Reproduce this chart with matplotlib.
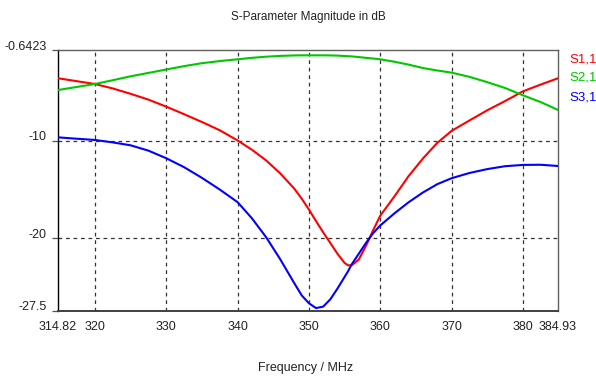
import matplotlib
matplotlib.use("Agg")
import matplotlib.pyplot as plt
from matplotlib.transforms import ScaledTranslation

plt.rcParams['font.family'] = ['Liberation Sans', 'DejaVu Sans']

freq = [314.82, 317, 320, 322.5, 325, 327.5, 330, 332.5, 335, 337.5, 340, 342, 344,
        346, 348, 349, 350, 351, 352, 353, 354, 355, 355.5, 356, 357, 358, 359, 360,
        362, 364, 366, 368, 370, 372.5, 375, 377.5, 380, 382.5, 384.93]

s11 = [-3.55, -3.8, -4.14, -4.6, -5.15, -5.75, -6.47, -7.25, -8.05, -8.9, -9.95, -10.9, -12.0,
       -13.35, -14.95, -15.95, -17.05, -18.25, -19.4, -20.5, -21.6, -22.55, -22.8, -22.8, -22.2,
       -20.8, -19.2, -17.7, -15.7, -13.6, -11.8, -10.2, -8.97, -7.9, -6.85, -5.9, -4.9, -4.2, -3.55]

s21 = [-4.76, -4.5, -4.14, -3.75, -3.35, -3.0, -2.65, -2.3, -2.0, -1.78, -1.6, -1.45, -1.33,
       -1.25, -1.2, -1.19, -1.19, -1.19, -1.19, -1.2, -1.22, -1.26, -1.28, -1.3, -1.37,
       -1.45, -1.52, -1.6, -1.85, -2.15, -2.5, -2.75, -2.97, -3.4, -3.95, -4.55, -5.3, -6.0, -6.81]

s31 = [-9.63, -9.75, -9.9, -10.15, -10.45, -11.0, -11.78, -12.7, -13.8, -15.0, -16.3, -17.95, -19.9,
       -22.2, -24.7, -25.9, -26.7, -27.2, -27.05, -26.3, -25.2, -24.0, -23.4, -22.7, -21.6,
       -20.5, -19.5, -18.7, -17.45, -16.3, -15.3, -14.45, -13.84, -13.3, -12.9, -12.6, -12.47, -12.45, -12.58]

series_names = ["S1,1", "S2,1", "S3,1"]
colors = ["#ff0000", "#00c800", "#0000ff"]

x_ticks = [314.82, 320, 330, 340, 350, 360, 370, 380, 384.93]
x_ticklabels = ["314.82", "320", "330", "340", "350", "360", "370", "380", "384.93"]
y_ticks = [-27.5, -20, -10, -0.6423]
y_ticklabels = ["-27.5", "-20", "-10", "-0.6423"]
x_grid = [320, 330, 340, 350, 360, 370, 380]
y_grid = [-20, -10]

title = "S-Parameter Magnitude in dB"
xlabel = "Frequency / MHz"

W, H = 596, 377
fig = plt.figure(figsize=(W / 100, H / 100), dpi=100)
L, R, T, B = 58, 558, 50, 311
ax = fig.add_axes([L / W, (H - B) / H, (R - L) / W, (B - T) / H])

ax.set_xlim(314.82, 384.93)
ax.set_ylim(-27.5, -0.6423)

for g in x_grid:
    ax.axvline(g, color="#333333", lw=0.9, ls=(0, (3, 3)), zorder=1)
for g in y_grid:
    ax.axhline(g, color="#333333", lw=0.9, ls=(0, (3, 3)), zorder=1)

for vals, c in zip([s11, s21, s31], colors):
    ax.plot(freq, vals, color=c, lw=1.5, zorder=3)

ax.set_xticks(x_ticks)
ax.set_xticklabels(x_ticklabels)
ax.set_yticks(y_ticks)
ax.set_yticklabels(y_ticklabels)
ax.tick_params(axis='x', length=0, pad=7, labelsize=9, labelcolor="#222222")
ax.tick_params(axis='y', length=4, width=0.9, color="#555555", pad=4, labelsize=9, labelcolor="#222222")
ax.set_xticks([314.82, 384.93], minor=True)
ax.tick_params(axis='x', which='minor', length=6, width=1, color="#333333")

for lab in ax.get_yticklabels():
    lab.set_transform(lab.get_transform() + ScaledTranslation(0, 0.05, fig.dpi_scale_trans))

ax.spines['left'].set_color("#000000")
ax.spines['left'].set_linewidth(1.0)
ax.spines['bottom'].set_color("#404040")
ax.spines['bottom'].set_linewidth(1.4)
ax.spines['top'].set_color("#606060")
ax.spines['top'].set_linewidth(1.0)
ax.spines['right'].set_color("#606060")
ax.spines['right'].set_linewidth(1.0)

fig.text(308 / W, 1 - 17 / H, title, ha='center', va='center', fontsize=8.5, color="#222222")
fig.text(306 / W, 1 - 368 / H, xlabel, ha='center', va='center', fontsize=9, color="#222222")

for i, (name, c) in enumerate(zip(series_names, colors)):
    yc = [60, 78, 97][i]
    fig.text(569 / W, 1 - yc / H, name, ha='left', va='center', fontsize=9.5, color=c)

fig.savefig("out.png", dpi=100)
